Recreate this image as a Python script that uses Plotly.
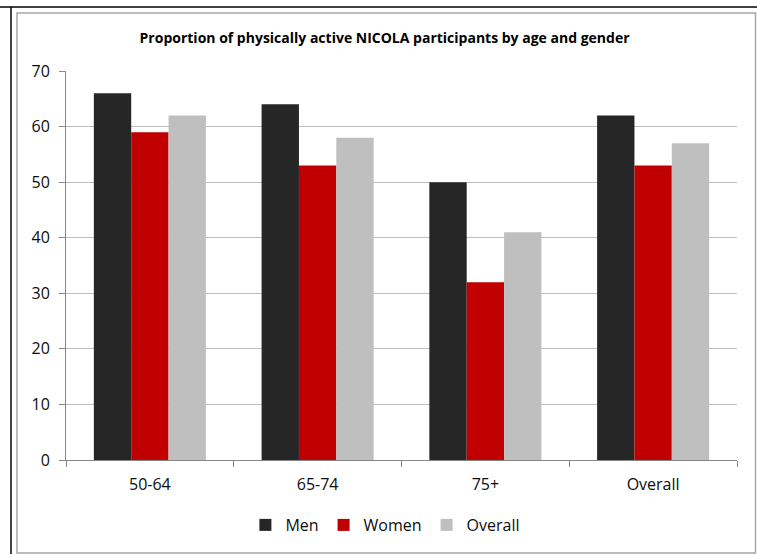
import plotly.graph_objects as go

categories = ["50-64", "65-74", "75+", "Overall"]
men = [66, 64, 50, 62]
women = [59, 53, 32, 53]
overall = [62, 58, 41, 57]
y_ticks = [0, 10, 20, 30, 40, 50, 60, 70]

W, H = 757, 554
L, R, T, B = 66, 20, 71, 94
PW, PH = W - L - R, H - T - B

fig = go.Figure()
fig.add_trace(go.Bar(name="Men", x=categories, y=men, marker_color="#262626", marker_line_width=0))
fig.add_trace(go.Bar(name="Women", x=categories, y=women, marker_color="#C00000", marker_line_width=0))
fig.add_trace(go.Bar(name="Overall", x=categories, y=overall, marker_color="#BFBFBF", marker_line_width=0))

font_family = "Open Sans, Liberation Sans, sans-serif"

fig.update_layout(
    width=W, height=H,
    margin=dict(l=L, r=R, t=T, b=B),
    paper_bgcolor="white", plot_bgcolor="white",
    barmode="group", bargap=0.332, bargroupgap=0,
    font=dict(family=font_family, size=16, color="#0d0d0d"),
    title=dict(text="<b>Proportion of physically active NICOLA participants by age and gender</b>",
               x=0.508, xanchor="center", y=1 - 38 / H, yanchor="middle",
               font=dict(size=14, color="#000000")),
    showlegend=True,
    legend=dict(orientation="h", x=0.476, xanchor="center", y=-(525 - 460) / PH, yanchor="middle",
                font=dict(size=16), itemwidth=30, traceorder="normal", tracegroupgap=0),
    xaxis=dict(showline=True, linecolor="#868686", linewidth=1, ticks="outside",
               tickson="boundaries", ticklen=6, tickcolor="#868686", showgrid=False,
               tickfont=dict(size=16), ticklabelstandoff=10),
    yaxis=dict(range=[0, 70], tickvals=y_ticks, showline=True, linecolor="#868686", linewidth=1,
               ticks="outside", ticklen=6, tickcolor="#868686", showgrid=True,
               gridcolor="#BFBFBF", gridwidth=1, zeroline=False, tickfont=dict(size=16),
               ticklabelstandoff=6),
    shapes=[
        dict(type="line", xref="paper", yref="paper", x0=-L / PW, x1=1 + R / PW,
             y0=1 + (T - 7) / PH, y1=1 + (T - 7) / PH,
             line=dict(color="black", width=1.5)),
        dict(type="line", xref="paper", yref="paper", x0=(11 - L) / PW, x1=(11 - L) / PW,
             y0=1 + (T - 7) / PH, y1=-B / PH,
             line=dict(color="black", width=1.5)),
        dict(type="rect", xref="paper", yref="paper", x0=(17 - L) / PW, x1=1 + (R - 1.5) / PW,
             y0=-(B - 1) / PH, y1=1 + (T - 13) / PH,
             line=dict(color="#A6A6A6", width=1.5)),
    ],
)

fig.write_html("out.html")
